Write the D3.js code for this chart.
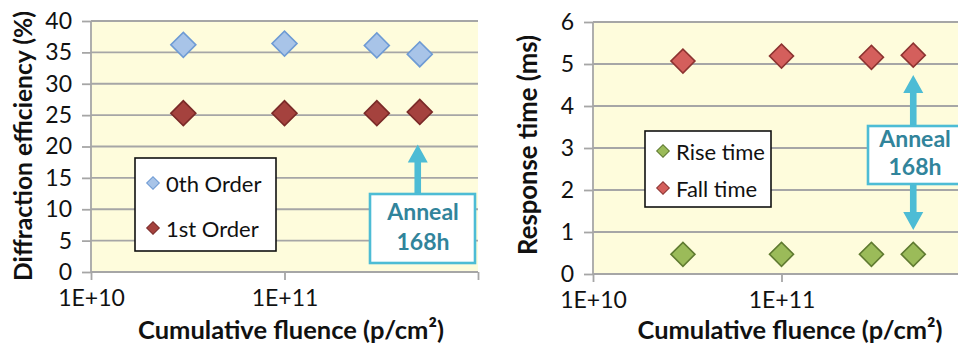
<!DOCTYPE html>
<html>
<head>
<meta charset="utf-8">
<script src="https://cdn.jsdelivr.net/npm/d3@7"></script>
<style>
  html, body { margin: 0; padding: 0; background: #fff; }
  svg { display: block; font-family: Lato, "Open Sans", sans-serif; }
</style>
</head>
<body>
<svg id="chart" width="958" height="347"></svg>
<script>
// ---------------- data ----------------
const fluence = [3e10, 1e11, 3e11, 5e11];
const order0 = [36.2, 36.4, 36.1, 34.7];
const order1 = [25.3, 25.3, 25.3, 25.5];
const riseTime = [0.47, 0.47, 0.47, 0.47];
const fallTime = [5.07, 5.19, 5.16, 5.21];
const xTickValues = [1e10, 1e11, 1e12];
const xTickLabels = ["1E+10", "1E+11", ""];
const effTicks = [0, 5, 10, 15, 20, 25, 30, 35, 40];
const timeTicks = [0, 1, 2, 3, 4, 5, 6];
const annealFluence = 5e11;

const svg = d3.select("#chart");
const GRID = "#a6a6a6";
const BG = "#fefcdc";
const ANN = "#4dbcd5";
const ANN_TEXT = "#31849b";

function fitText(sel, target) {
  const w = sel.node().getComputedTextLength();
  const fs = parseFloat(sel.attr("font-size"));
  sel.attr("font-size", fs * target / w);
}

function drawPanel(cfg) {
  const g = svg.append("g");
  const x = d3.scaleLog().domain([1e10, 1e12]).range(cfg.xr);
  const y = d3.scaleLinear().domain(cfg.yd).range(cfg.yr);

  g.append("rect").attr("x", cfg.xr[0]).attr("y", cfg.yr[1])
    .attr("width", cfg.xr[1] - cfg.xr[0]).attr("height", cfg.yr[0] - cfg.yr[1])
    .attr("fill", BG);

  // horizontal gridlines + y axis
  const ya = g.append("g").attr("transform", `translate(${cfg.xr[0]},0)`)
    .call(d3.axisLeft(y).tickValues(cfg.yticks).tickSize(9).tickPadding(10).tickFormat(d3.format("d")));
  ya.select(".domain").remove();
  ya.selectAll(".tick line").attr("stroke", GRID).attr("stroke-width", 1.8);
  ya.selectAll(".tick text").attr("font-size", 23).attr("fill", "#111").attr("font-family", "Lato, sans-serif");
  g.append("g").selectAll("line").data(cfg.yticks).join("line")
    .attr("x1", cfg.xr[0]).attr("x2", cfg.xr[1])
    .attr("y1", d => y(d)).attr("y2", d => y(d))
    .attr("stroke", GRID).attr("stroke-width", 1.8);
  g.append("line").attr("x1", cfg.xr[0]).attr("x2", cfg.xr[0])
    .attr("y1", cfg.yr[0]).attr("y2", cfg.yr[1]).attr("stroke", GRID).attr("stroke-width", 1.8);

  // x axis
  const xa = g.append("g").attr("transform", `translate(0,${cfg.yr[0]})`)
    .call(d3.axisBottom(x).tickValues(xTickValues).tickSize(8).tickPadding(10)
      .tickFormat((d, i) => xTickLabels[i]));
  xa.select(".domain").remove();
  xa.selectAll(".tick line").attr("stroke", GRID).attr("stroke-width", 1.8);
  xa.selectAll(".tick text").attr("font-size", 23).attr("fill", "#111").attr("font-family", "Lato, sans-serif");

  // axis titles
  const xt = g.append("text").attr("x", cfg.xTitle[0]).attr("y", cfg.xTitle[1])
    .attr("text-anchor", "middle").attr("font-weight", "bold").attr("font-size", 24).attr("fill", "#111")
    .text("Cumulative fluence (p/cm²)");
  fitText(xt, cfg.xTitle[2]);
  const yt = g.append("text")
    .attr("transform", `translate(${cfg.yTitle[0]},${cfg.yTitle[1]}) rotate(-90)`)
    .attr("text-anchor", "middle").attr("font-weight", "bold").attr("font-size", 24).attr("fill", "#111")
    .text(cfg.yLabel);
  fitText(yt, cfg.yTitle[2]);

  // markers
  cfg.series.forEach(s => {
    g.append("g").selectAll("path").data(s.values).join("path")
      .attr("d", d3.symbol(d3.symbolSquare, cfg.markerArea))
      .attr("transform", (d, i) => `translate(${x(fluence[i])},${y(d)}) rotate(45)`)
      .attr("fill", s.fill).attr("stroke", s.stroke).attr("stroke-width", 1.6);
  });

  // legend
  const L = cfg.legend;
  g.append("rect").attr("x", L.x).attr("y", L.y).attr("width", L.w).attr("height", L.h)
    .attr("fill", "#fff").attr("stroke", "#111").attr("stroke-width", 1.6);
  cfg.series.forEach((s, i) => {
    g.append("path").attr("d", d3.symbol(d3.symbolSquare, 80))
      .attr("transform", `translate(${L.mx},${L.my[i]}) rotate(45)`)
      .attr("fill", s.fill).attr("stroke", s.stroke).attr("stroke-width", 1);
    g.append("text").attr("x", L.tx).attr("y", L.ty[i]).attr("font-size", 22).attr("fill", "#111")
      .text(s.name);
  });

  // anneal annotation
  const A = cfg.anneal;
  const ax = x(annealFluence) + A.dx;
  function arrow(y0, tip) {
    const dir = Math.sign(tip - y0);
    const hb = tip - dir * 18;
    const pts = [[ax - 3.3, y0], [ax - 3.3, hb], [ax - 10, hb], [ax, tip], [ax + 10, hb], [ax + 3.3, hb], [ax + 3.3, y0]];
    g.append("path").attr("d", d3.line()(pts) + "Z").attr("fill", ANN);
  }
  A.arrows.forEach(a => arrow(a[0], y(a[1])));
  g.append("rect").attr("x", A.x).attr("y", A.y).attr("width", A.w).attr("height", A.h)
    .attr("fill", "#fff").attr("stroke", ANN).attr("stroke-width", 2.6);
  ["Anneal", "168h"].forEach((t, i) => {
    g.append("text").attr("x", A.cx).attr("y", A.ty[i]).attr("text-anchor", "middle")
      .attr("font-weight", "bold").attr("font-size", 23).attr("fill", ANN_TEXT).text(t);
  });
}

drawPanel({
  xr: [91, 478], yr: [272, 21], yd: [0, 40], yticks: effTicks,
  yLabel: "Diffraction efficiency (%)",
  xTitle: [291, 339, 306], yTitle: [32, 146, 270],
  markerArea: 312,
  series: [
    { name: "0th Order", values: order0, fill: "#a8c4e8", stroke: "#6e9bd4" },
    { name: "1st Order", values: order1, fill: "#a5423e", stroke: "#7a2a28" }
  ],
  legend: { x: 135, y: 158, w: 141, h: 93, mx: 153, my: [183, 228], tx: 166, ty: [192, 237] },
  anneal: { x: 370, y: 194, w: 105, h: 69, cx: 423, ty: [220, 250], dx: -2, arrows: [[194, 20.3]] }
});

drawPanel({
  xr: [593, 970], yr: [274, 22], yd: [0, 6], yticks: timeTicks,
  yLabel: "Response time (ms)",
  xTitle: [790, 339, 305], yTitle: [537, 145, 220],
  markerArea: 288,
  series: [
    { name: "Rise time", values: riseTime, fill: "#9bbb59", stroke: "#5f7a30" },
    { name: "Fall time", values: fallTime, fill: "#d45f5c", stroke: "#8c3331" }
  ],
  legend: { x: 645, y: 131, w: 126, h: 76, mx: 663, my: [151, 188], tx: 676, ty: [160, 197] },
  anneal: { x: 868, y: 126, w: 100, h: 58, cx: 915, ty: [147, 175], dx: 0, arrows: [[126, 4.74], [184, 1.05]] }
});
</script>
</body>
</html>
